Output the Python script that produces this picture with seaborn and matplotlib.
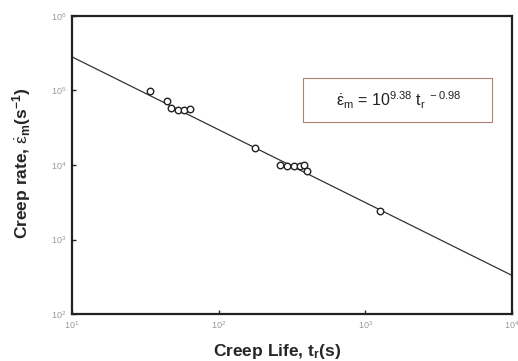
import numpy as np
import pandas as pd
import matplotlib
matplotlib.use("Agg")
import matplotlib.pyplot as plt
from matplotlib.patches import Rectangle
import seaborn as sns

# creep data
creep_life = [34.0, 44.5, 47.3, 52.8, 58.1, 63.8, 177, 262, 292, 327, 359, 382, 400, 1259]
creep_rate = [98400, 72300, 58200, 54700, 54700, 56500, 16900, 10000, 9700, 9700, 9700, 10000, 8300, 2415]

# fitted line end points
fit_life = [10, 10000]
fit_rate = [282000, 331]

x_ticks = [10, 100, 1000, 10000]
y_ticks = [100, 1000, 10000, 100000, 1000000]

df = pd.DataFrame({"life": creep_life, "rate": creep_rate})
fit_df = pd.DataFrame({"life": fit_life, "rate": fit_rate})

sns.set_style("ticks")
plt.rcParams["font.family"] = ["Liberation Sans", "DejaVu Sans"]
plt.rcParams["mathtext.fontset"] = "custom"
plt.rcParams["mathtext.rm"] = "Liberation Sans"
plt.rcParams["mathtext.it"] = "Liberation Sans"
plt.rcParams["mathtext.bf"] = "Liberation Sans:bold"

fig = plt.figure(figsize=(5.18, 3.61), dpi=100)
ax = fig.add_axes([0.139, 0.130, 0.849, 0.826])

sns.lineplot(data=fit_df, x="life", y="rate", color="#333333", linewidth=0.9, ax=ax)
sns.scatterplot(data=df, x="life", y="rate", marker="o", s=22, facecolor="white",
                edgecolor="#222222", linewidth=1.0, zorder=3, ax=ax)

ax.set_xscale("log")
ax.set_yscale("log")
ax.set_xlim(10, 10000)
ax.set_ylim(100, 1000000)
ax.set_xticks(x_ticks)
ax.set_yticks(y_ticks)
ax.minorticks_off()
ax.tick_params(direction="in", length=3, width=1, labelsize=6.5, labelcolor="#999999", pad=4)

for side in ["left", "right", "top", "bottom"]:
    ax.spines[side].set_visible(True)
    ax.spines[side].set_linewidth(1.6)
    ax.spines[side].set_color("#222222")

ax.set_xlabel(r"Creep Life, t$_\mathbf{r}$(s)", fontsize=12.5, fontweight="bold")
ax.xaxis.set_label_coords(0.466, -0.095)
ax.set_ylabel(r"Creep rate, $\dot{\varepsilon}$$_\mathbf{m}$(s$^\mathbf{-1}$)", fontsize=12.5,
              fontweight="bold")
ax.yaxis.set_label_coords(-0.089, 0.507)

# equation box
ax.add_patch(Rectangle((0.525, 0.644), 0.43, 0.148, transform=ax.transAxes,
                       facecolor="white", edgecolor="#b08070", linewidth=0.8, zorder=4))
ax.text(0.742, 0.716, r"$\dot{\varepsilon}_m$ = 10$^{9.38}$ t$_r$$^{\ -0.98}$", transform=ax.transAxes,
        ha="center", va="center", fontsize=11.5, color="#222222", zorder=5)

plt.savefig("out.png", dpi=100)
